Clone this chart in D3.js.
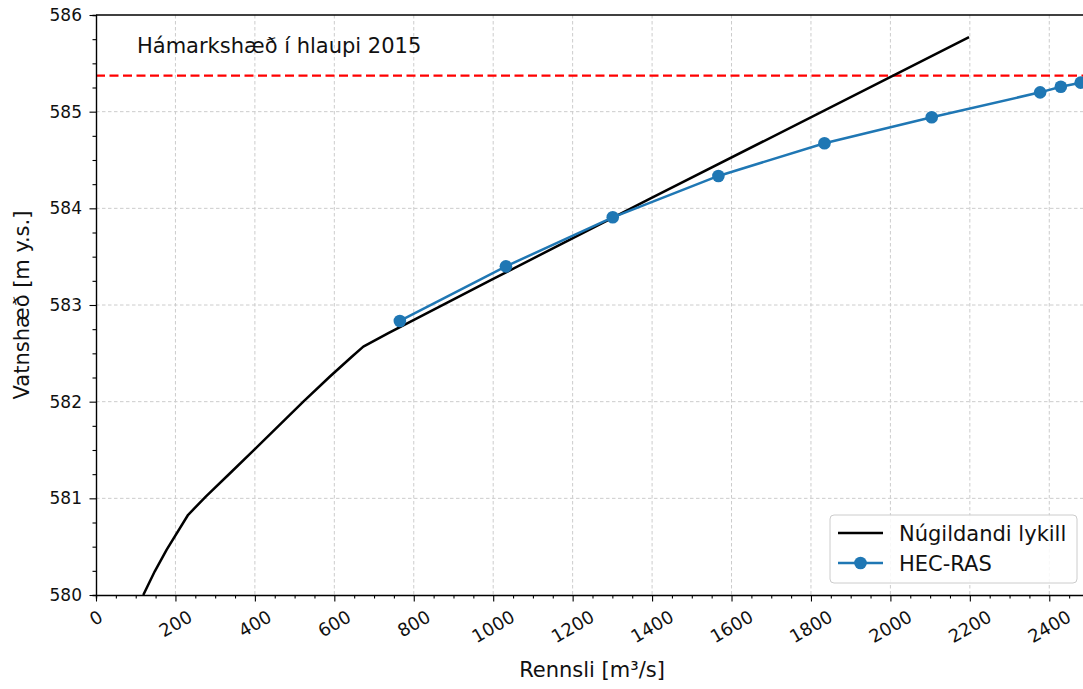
<!DOCTYPE html>
<html>
<head>
<meta charset="utf-8">
<script src="https://cdn.jsdelivr.net/npm/d3@7"></script>
<style>
  html, body { margin: 0; padding: 0; background: #fff; overflow: hidden; }
  svg { display: block; font-family: "DejaVu Sans", sans-serif; }
</style>
</head>
<body>
<svg id="chart" width="1083" height="689"></svg>
<script>
// Rating curve currently in use (discharge m3/s, water level m a.s.l.)
const ratingQ = [119, 148, 178, 232, 277, 340, 400, 522, 589, 644, 673, 736, 1000, 1395, 2198];
const ratingH = [580.0, 580.245, 580.47, 580.83, 581.02, 581.27, 581.51, 582.0, 582.26, 582.465, 582.57, 582.71, 583.27, 584.1, 585.77];

// HEC-RAS model results
const hecQ = [765, 1032, 1301, 1567, 1834, 2104, 2377, 2429, 2479];
const hecH = [582.835, 583.40, 583.907, 584.335, 584.673, 584.942, 585.20, 585.258, 585.30];

// Peak water level in the 2015 flood
const peakLevel = 585.372;
const peakLabel = "Hámarkshæð í hlaupi 2015";

const xTicks = [0, 200, 400, 600, 800, 1000, 1200, 1400, 1600, 1800, 2000, 2200, 2400];
const yTicks = [580, 581, 582, 583, 584, 585, 586];

const seriesNames = ["Núgildandi lykill", "HEC-RAS"];
const xLabel = "Rennsli [m³/s]";
const yLabel = "Vatnshæð [m y.s.]";

(function draw() {
  const svg = d3.select("#chart");
  const plotLeft = 96, plotTop = 15, plotBottom = 595;
  const x = d3.scaleLinear().domain([0, 2500]).range([plotLeft, plotLeft + 0.3972 * 2500]);
  const y = d3.scaleLinear().domain([580, 586]).range([plotBottom, plotTop]);
  const plotRight = x(2500);

  const yTickFont = 17, xTickFont = 18, labelFont = 21;
  const blue = "#1f77b4";

  // grid
  const grid = svg.append("g").attr("stroke", "#cccccc").attr("stroke-width", 1).attr("stroke-dasharray", "3.5,2.5");
  grid.selectAll("line.v").data(xTicks.filter(d => d > 0)).join("line").attr("class", "v")
    .attr("x1", d => x(d)).attr("x2", d => x(d)).attr("y1", plotTop).attr("y2", plotBottom);
  grid.selectAll("line.h").data(yTicks.filter(d => d > 580 && d < 586)).join("line").attr("class", "h")
    .attr("x1", plotLeft).attr("x2", plotRight).attr("y1", d => y(d)).attr("y2", d => y(d));

  // peak level line
  svg.append("line")
    .attr("x1", plotLeft).attr("x2", plotRight).attr("y1", y(peakLevel)).attr("y2", y(peakLevel))
    .attr("stroke", "#ff0000").attr("stroke-width", 2.2).attr("stroke-dasharray", "9,4.5");

  svg.append("text").attr("x", 137).attr("y", 53)
    .attr("font-size", labelFont).attr("fill", "#111").text(peakLabel);

  const line = d3.line().x(d => x(d[0])).y(d => y(d[1]));

  // rating curve
  svg.append("path").datum(ratingQ.map((q, i) => [q, ratingH[i]]))
    .attr("d", line).attr("fill", "none").attr("stroke", "#000").attr("stroke-width", 2.5)
    .attr("stroke-linejoin", "round");

  // HEC-RAS
  const hec = hecQ.map((q, i) => [q, hecH[i]]);
  svg.append("path").datum(hec)
    .attr("d", line).attr("fill", "none").attr("stroke", blue).attr("stroke-width", 2.5);
  svg.append("g").selectAll("circle").data(hec).join("circle")
    .attr("cx", d => x(d[0])).attr("cy", d => y(d[1])).attr("r", 6.3).attr("fill", blue);

  // axes
  const xAxis = d3.axisBottom(x).tickValues(d3.range(0, 2501, 50)).tickSize(3.5).tickFormat("");
  const gx = svg.append("g").attr("transform", `translate(0,${plotBottom})`).call(xAxis);
  gx.selectAll(".tick line").filter(d => d % 200 === 0).attr("y2", 6.5);
  const yAxis = d3.axisLeft(y).tickValues(d3.range(580, 586.01, 0.25)).tickSize(3.5).tickFormat("");
  const gy = svg.append("g").attr("transform", `translate(${plotLeft},0)`).call(yAxis);
  gy.selectAll(".tick line").filter(d => Math.abs(d - Math.round(d)) < 1e-6).attr("x2", -6.5);
  [gx, gy].forEach(g => {
    g.select(".domain").attr("stroke", "#000").attr("stroke-width", 1.4);
    g.selectAll(".tick line").attr("stroke", "#000").attr("stroke-width", 1.1);
  });
  // top spine
  svg.append("line").attr("x1", plotLeft).attr("x2", plotRight).attr("y1", plotTop).attr("y2", plotTop)
    .attr("stroke", "#000").attr("stroke-width", 1.4);

  // y tick labels
  svg.append("g").selectAll("text").data(yTicks).join("text")
    .attr("x", 82).attr("y", d => y(d)).attr("dy", "0.36em")
    .attr("text-anchor", "end").attr("font-size", yTickFont).attr("fill", "#111")
    .text(d => d);

  // x tick labels, rotated
  svg.append("g").selectAll("text").data(xTicks).join("text")
    .attr("text-anchor", "middle").attr("dy", "0.36em")
    .attr("font-size", xTickFont).attr("fill", "#111")
    .text(d => d)
    .each(function (d) {
      const w = this.getComputedTextLength();
      const cy = 615 + w * 0.25;
      d3.select(this).attr("transform", `translate(${x(d)},${cy}) rotate(-30)`);
    });

  // axis titles
  svg.append("text").attr("x", 592).attr("y", 677).attr("text-anchor", "middle")
    .attr("font-size", labelFont).attr("fill", "#111").text(xLabel);
  svg.append("text").attr("transform", "translate(28.5,305) rotate(-90)").attr("text-anchor", "middle")
    .attr("font-size", labelFont).attr("fill", "#111").text(yLabel);

  // legend
  const lg = svg.append("g");
  lg.append("rect").attr("x", 830).attr("y", 515).attr("width", 247).attr("height", 68)
    .attr("rx", 4).attr("fill", "#fff").attr("fill-opacity", 0.85)
    .attr("stroke", "#cccccc").attr("stroke-width", 1);
  const rows = [533, 563];
  lg.append("line").attr("x1", 838).attr("x2", 883).attr("y1", rows[0]).attr("y2", rows[0])
    .attr("stroke", "#000").attr("stroke-width", 2.5);
  lg.append("line").attr("x1", 838).attr("x2", 883).attr("y1", rows[1]).attr("y2", rows[1])
    .attr("stroke", blue).attr("stroke-width", 2.5);
  lg.append("circle").attr("cx", 860.5).attr("cy", rows[1]).attr("r", 6.3).attr("fill", blue);
  lg.selectAll("text").data(seriesNames).join("text")
    .attr("x", 899).attr("y", (d, i) => rows[i]).attr("dy", "0.36em")
    .attr("font-size", labelFont).attr("fill", "#111").text(d => d);
})();
</script>
</body>
</html>
